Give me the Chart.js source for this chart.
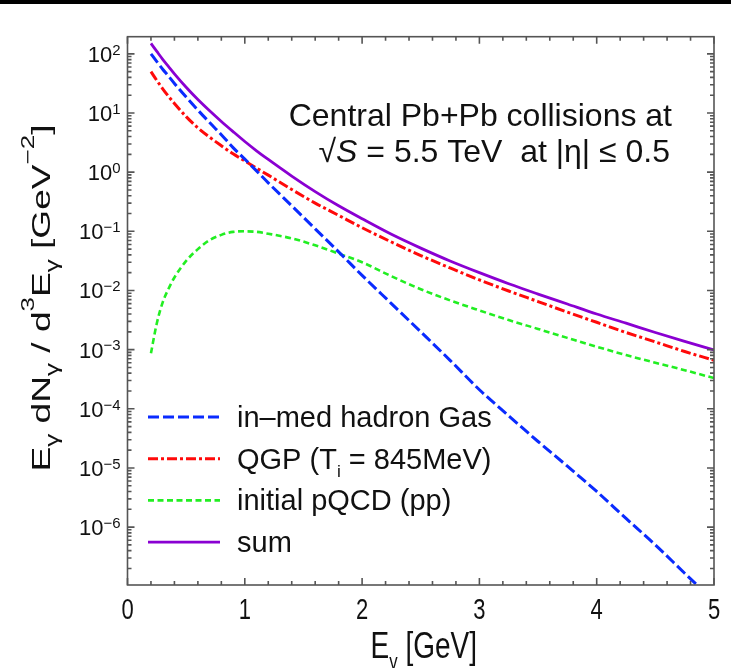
<!DOCTYPE html>
<html>
<head>
<meta charset="utf-8">
<title>Photon spectra Pb+Pb</title>
<script src="https://cdn.jsdelivr.net/npm/chart.js@4.4.1/dist/chart.umd.min.js"></script>
<style>
  html, body { margin: 0; padding: 0; background: #fff; }
  #wrap { width: 731px; height: 668px; position: relative; }
</style>
</head>
<body>
<div id="wrap"><canvas id="chart" width="731" height="668"></canvas></div>
<script>
// values (E in GeV, rate in GeV^-2)
const energy = [0.2, 0.25, 0.3, 0.35, 0.4, 0.5, 0.6, 0.7, 0.8, 0.9, 1.0, 1.1, 1.2, 1.4, 1.6, 1.8, 2.0, 2.25, 2.5, 2.75, 3.0, 3.25, 3.5, 3.75, 4.0, 4.25, 4.5, 4.75, 5.0];
const hadronGas = [100, 74, 55, 42, 31.6, 18.6, 11.2, 6.9, 4.3, 2.6, 1.66, 1.05, 0.66, 0.27, 0.11, 0.045, 0.018, 6.0e-3, 2.0e-3, 6.6e-4, 2.1e-4, 7.6e-5, 2.8e-5, 1.07e-5, 4.0e-6, 1.4e-6, 5.0e-7, 1.66e-7, 5.6e-8];
const qgp = [50, 35.5, 25.7, 19.1, 14.5, 8.7, 5.6, 3.9, 2.8, 2.04, 1.55, 1.17, 0.89, 0.51, 0.30, 0.186, 0.115, 0.066, 0.039, 0.024, 0.0151, 0.0098, 0.0065, 0.0043, 0.0029, 0.00195, 0.00135, 0.00093, 0.00066];
const pqcd = [8.7e-4, 2.8e-3, 6.3e-3, 0.0107, 0.0166, 0.0316, 0.050, 0.071, 0.087, 0.098, 0.100, 0.098, 0.091, 0.076, 0.058, 0.042, 0.030, 0.0174, 0.0105, 0.0068, 0.0046, 0.00316, 0.00224, 0.00158, 0.00112, 8.1e-4, 6.0e-4, 4.5e-4, 3.3e-4];
const sumRate = [150, 110, 81, 61, 46, 27.3, 16.9, 10.9, 7.2, 4.85, 3.3, 2.3, 1.64, 0.86, 0.47, 0.27, 0.163, 0.089, 0.052, 0.0315, 0.020, 0.0130, 0.0087, 0.0059, 0.0040, 0.0028, 0.00195, 0.00138, 0.00099];

const seriesNames = ['in–med hadron Gas', 'QGP (T_{i} = 845MeV)', 'initial pQCD (pp)', 'sum'];
const xTickValues = [0, 1, 2, 3, 4, 5];
const xTickLabels = ['0', '1', '2', '3', '4', '5'];
const yTickValues = [1e2, 1e1, 1e0, 1e-1, 1e-2, 1e-3, 1e-4, 1e-5, 1e-6];
const yTickLabels = ['10^{2}', '10^{1}', '10^{0}', '10^{−1}', '10^{−2}', '10^{−3}', '10^{−4}', '10^{−5}', '10^{−6}'];
const xTitle = 'E_{γ} [GeV]';
const yTitle = 'E_{γ} dN_{γ} / d^{3}E_{γ} [GeV^{−2}]';
const noteLines = ['Central Pb+Pb collisions at', '√~{S} = 5.5 TeV  at |η| ≤ 0.5'];

const FONT = '"Liberation Sans", Arial, Helvetica, sans-serif';

// tiny markup: _{sub} ^{sup} ~{italic}
function parseRich(str) {
  const parts = [];
  const re = /([_^~])\{([^}]*)\}/g;
  let last = 0, m;
  while ((m = re.exec(str))) {
    if (m.index > last) parts.push({t: str.slice(last, m.index), k: ''});
    parts.push({t: m[2], k: m[1]});
    last = re.lastIndex;
  }
  if (last < str.length) parts.push({t: str.slice(last), k: ''});
  return parts;
}

function segFont(k, size, o) {
  if (k === '_' || k === '^') return `${size * o.small}px ${FONT}`;
  if (k === '~') return `italic ${size}px ${FONT}`;
  return `${size}px ${FONT}`;
}

function drawRich(ctx, str, x, y, size, opts) {
  const o = Object.assign({align: 'left', small: 0.65, sub: 0.25, sup: 0.45, sx: 1, sy: 1, rot: 0, len: 0}, opts);
  const parts = parseRich(str);
  let w = 0;
  parts.forEach(p => { ctx.font = segFont(p.k, size, o); p.w = ctx.measureText(p.t).width; w += p.w; });
  const sx = o.len ? o.len / w : o.sx;
  ctx.save();
  ctx.translate(x, y);
  if (o.rot) ctx.rotate(o.rot);
  ctx.scale(sx, o.sy);
  ctx.textAlign = 'left';
  ctx.textBaseline = 'alphabetic';
  let cx = o.align === 'right' ? -w : o.align === 'center' ? -w / 2 : 0;
  parts.forEach(p => {
    ctx.font = segFont(p.k, size, o);
    const dy = p.k === '_' ? size * o.sub : p.k === '^' ? -size * o.sup : 0;
    ctx.fillText(p.t, cx, dy);
    cx += p.w;
  });
  ctx.restore();
  return w;
}

const framePlugin = {
  id: 'frame',
  beforeDraw(chart) {
    const ctx = chart.ctx;
    ctx.save();
    ctx.fillStyle = '#fff';
    ctx.fillRect(0, 0, chart.width, chart.height);
    ctx.fillStyle = '#000';
    ctx.fillRect(0, 0, chart.width, 4);
    ctx.restore();
  },
  afterDraw(chart) {
    const {ctx, chartArea: a, scales: {x, y}} = chart;
    ctx.save();
    ctx.strokeStyle = '#555';
    ctx.lineWidth = 1.6;
    ctx.strokeRect(a.left, a.top, a.right - a.left, a.bottom - a.top);

    // inward ticks, all four sides
    ctx.beginPath();
    for (let i = 0; i <= 25; i++) {
      const v = i * 0.2;
      const px = x.getPixelForValue(v);
      const len = i % 5 === 0 ? 7 : 4;
      ctx.moveTo(px, a.bottom); ctx.lineTo(px, a.bottom - len);
      ctx.moveTo(px, a.top); ctx.lineTo(px, a.top + len);
    }
    for (let k = -7; k <= 2; k++) {
      for (let m = 1; m <= 9; m++) {
        const v = m * Math.pow(10, k);
        if (v < y.min || v > y.max) continue;
        const py = y.getPixelForValue(v);
        const len = m === 1 ? 7 : 4;
        ctx.moveTo(a.left, py); ctx.lineTo(a.left + len, py);
        ctx.moveTo(a.right, py); ctx.lineTo(a.right - len, py);
      }
    }
    ctx.stroke();

    ctx.fillStyle = '#111';
    // y tick labels
    yTickValues.forEach((v, i) => {
      const py = y.getPixelForValue(v);
      drawRich(ctx, yTickLabels[i], a.left - 7, py + 8, 22, {align: 'right', small: 0.68, sup: 0.33});
    });
    // x tick labels
    xTickValues.forEach((v, i) => {
      const px = x.getPixelForValue(v);
      drawRich(ctx, xTickLabels[i], px, a.bottom + 34, 22, {align: 'center', sy: 1.35});
    });
    // axis titles
    drawRich(ctx, xTitle, (a.left + a.right) / 2 + 3, 658, 28, {align: 'center', sy: 1.3, small: 0.6, sub: 0.3});
    drawRich(ctx, yTitle, 50, 298, 26, {align: 'center', rot: -Math.PI / 2, len: 347, small: 0.7, sub: 0.3, sup: 0.6});

    // note
    drawRich(ctx, noteLines[0], 672, 126, 32, {align: 'right'});
    drawRich(ctx, noteLines[1], 670, 162, 32, {align: 'right'});

    // legend
    chart.data.datasets.forEach((ds, i) => {
      const ly = 417 + i * 41.7;
      ctx.save();
      ctx.strokeStyle = ds.borderColor;
      ctx.lineWidth = ds.borderWidth;
      ctx.setLineDash(ds.borderDash || []);
      ctx.beginPath();
      ctx.moveTo(148, ly); ctx.lineTo(220, ly);
      ctx.stroke();
      ctx.restore();
      drawRich(ctx, seriesNames[i], 237, ly + 10, 29, {small: 0.6, sub: 0.3});
    });
    ctx.restore();
  }
};

function series(values, color, width, dash) {
  return {
    data: energy.map((e, i) => ({x: e, y: values[i]})),
    borderColor: color,
    borderWidth: width,
    borderDash: dash,
    pointRadius: 0,
    fill: false,
    cubicInterpolationMode: 'monotone'
  };
}

new Chart(document.getElementById('chart'), {
  type: 'line',
  data: {
    datasets: [
      series(hadronGas, '#0a2bff', 3, [11, 4]),
      series(qgp, '#ff0a0a', 3, [10, 3, 3, 3]),
      series(pqcd, '#22ee22', 2.6, [6, 3.5]),
      series(sumRate, '#8a00d2', 2.8, [])
    ]
  },
  options: {
    responsive: false,
    animation: false,
    layout: { padding: { top: 36.7, right: 17, left: 0, bottom: 0 } },
    plugins: { legend: { display: false }, tooltip: { enabled: false } },
    scales: {
      x: {
        type: 'linear', min: 0, max: 5,
        ticks: { display: false }, grid: { display: false }, border: { display: false },
        afterFit(s) { s.height = 83; }
      },
      y: {
        type: 'logarithmic', min: 1.05e-7, max: 195,
        ticks: { display: false }, grid: { display: false }, border: { display: false },
        afterFit(s) { s.width = 127.5; }
      }
    }
  },
  plugins: [framePlugin]
});
</script>
</body>
</html>
